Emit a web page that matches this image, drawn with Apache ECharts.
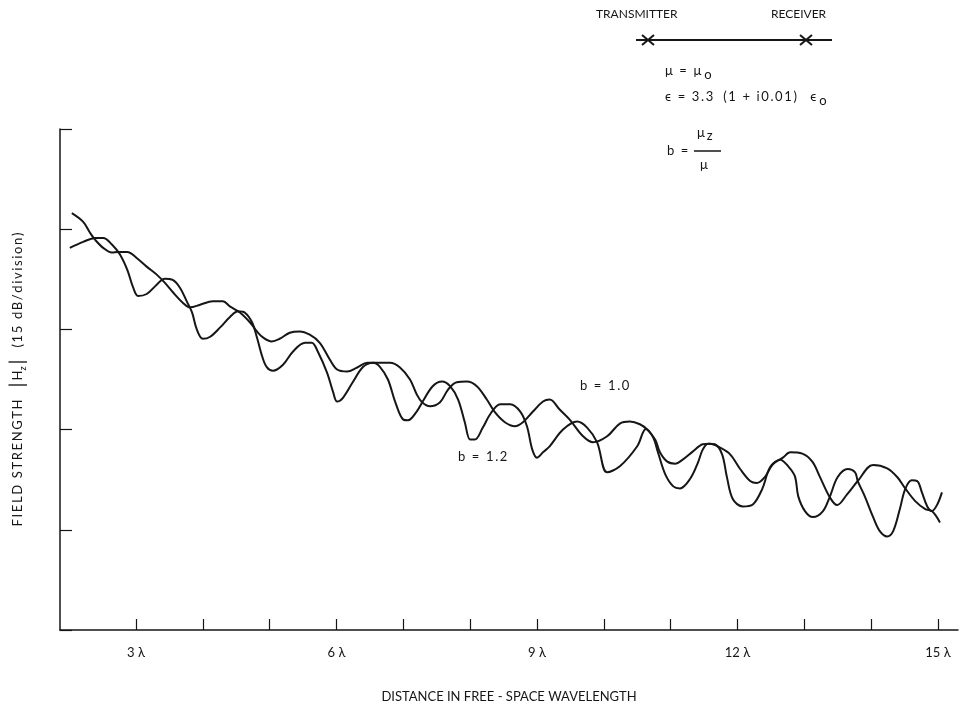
<!DOCTYPE html>
<html>
<head>
<meta charset="utf-8">
<title>Field strength vs distance</title>
<script src="https://cdn.jsdelivr.net/npm/echarts@6/dist/echarts.min.js"></script>
<style>
  html, body { margin: 0; padding: 0; background: #fff; }
  #chart { width: 959px; height: 708px; }
</style>
</head>
<body>
<div id="chart"></div>
<script>
// distance in free-space wavelengths, field strength in dB (15 dB per division)
const b10Distance = [2.04, 2.21, 2.31, 2.39, 2.51, 2.64, 2.73, 2.87, 3.01, 3.16, 3.31, 3.43, 3.55, 3.70, 3.81, 3.96,
  4.15, 4.30, 4.41, 4.56, 4.71, 4.81, 4.90, 5.03, 5.15, 5.30, 5.45, 5.60, 5.75, 5.90, 6.01, 6.16, 6.31, 6.46,
  6.65, 6.80, 6.95, 7.10, 7.20, 7.28, 7.40, 7.55, 7.67, 7.80, 7.95, 8.10, 8.25, 8.37, 8.52, 8.67, 8.79, 8.94,
  9.09, 9.19, 9.34, 9.49, 9.69, 9.84, 10.05, 10.24, 10.39, 10.54, 10.65, 10.77, 10.84, 10.95, 11.07, 11.18,
  11.33, 11.48, 11.59, 11.74, 11.89, 12.04, 12.19, 12.29, 12.41, 12.53, 12.68, 12.79, 12.97, 13.12, 13.23,
  13.38, 13.49, 13.64, 13.80, 14.03, 14.24, 14.39, 14.51, 14.66, 14.81, 14.91, 15.03];
const b10Field = [62.4, 61.1, 59.5, 58.4, 57.2, 56.5, 56.6, 56.6, 55.7, 54.4, 53.2, 52.0, 50.6, 49.0, 48.3, 48.7,
  49.2, 49.2, 48.4, 47.5, 46.0, 44.7, 43.8, 43.2, 43.6, 44.5, 44.7, 44.2, 43.0, 40.5, 39.0, 38.7, 39.3, 40.0,
  40.0, 40.0, 39.3, 37.5, 35.3, 34.1, 33.5, 34.1, 36.0, 37.1, 37.2, 36.5, 34.5, 32.6, 31.1, 30.5, 31.1, 32.7,
  34.2, 34.5, 33.0, 31.5, 29.0, 28.1, 29.0, 30.9, 31.2, 30.8, 30.0, 28.5, 26.6, 25.2, 24.9, 25.5,
  26.7, 27.8, 27.9, 27.3, 26.3, 24.1, 22.3, 22.0, 22.9, 24.8, 25.8, 26.6, 26.4, 25.2, 23.0,
  19.9, 18.7, 20.3, 22.3, 24.7, 24.2, 22.9, 21.2, 19.3, 18.1, 17.8, 16.1];

const b12Distance = [2.01, 2.21, 2.39, 2.51, 2.64, 2.76, 2.87, 2.96, 3.03, 3.16, 3.31, 3.43, 3.55, 3.66, 3.76, 3.84,
  3.91, 4.00, 4.11, 4.26, 4.41, 4.53, 4.63, 4.74, 4.81, 4.89, 4.96, 5.05, 5.20, 5.35, 5.53, 5.63, 5.72, 5.86,
  5.95, 6.01, 6.10, 6.25, 6.40, 6.55, 6.65, 6.77, 6.88, 7.00, 7.07, 7.20, 7.29, 7.44, 7.58, 7.70, 7.82, 7.92,
  8.00, 8.07, 8.19, 8.30, 8.45, 8.60, 8.75, 8.85, 8.93, 9.00, 9.09, 9.19, 9.39, 9.60, 9.75, 9.90, 10.05,
  10.24, 10.50, 10.63, 10.74, 10.81, 10.92, 11.04, 11.14, 11.29, 11.41, 11.48, 11.56, 11.66, 11.77, 11.84,
  11.93, 12.08, 12.23, 12.37, 12.49, 12.64, 12.76, 12.86, 12.91, 13.01, 13.13, 13.28, 13.38, 13.50, 13.65,
  13.76, 13.80, 13.91, 14.03, 14.13, 14.24, 14.33, 14.43, 14.51, 14.61, 14.69, 14.76, 14.84, 14.91, 14.99, 15.06];
const b12Field = [57.2, 58.1, 58.7, 58.7, 57.7, 56.2, 53.9, 51.2, 50.0, 50.3, 51.7, 52.6, 52.4, 51.2, 49.2, 47.5,
  45.0, 43.6, 43.9, 45.3, 46.9, 47.7, 47.5, 46.0, 43.8, 40.9, 39.3, 38.8, 39.7, 41.7, 43.0, 43.0, 41.7, 38.5,
  35.6, 34.2, 34.8, 37.2, 39.4, 40.0, 39.4, 37.5, 34.1, 31.5, 31.4, 32.7, 34.2, 36.5, 37.2, 36.5, 34.5, 31.1,
  28.5, 28.5, 30.3, 32.3, 33.8, 33.8, 32.7, 30.5, 27.0, 25.8, 26.6, 27.5, 30.0, 31.2, 30.3, 28.1, 23.6,
  24.5, 27.5, 30.1, 28.8, 26.6, 23.3, 21.5, 21.2, 22.6, 25.1, 27.0, 27.9, 27.8, 26.3, 23.0,
  19.6, 18.5, 18.8, 21.1, 24.4, 25.5, 24.5, 23.0, 20.0, 17.8, 16.9, 17.8, 19.9, 22.9, 24.1,
  23.6, 22.3, 19.9, 16.9, 14.8, 14.0, 14.8, 18.1, 21.1, 22.4, 22.3, 20.6, 18.5, 17.8, 18.8, 20.6];

const xTickValues = [3, 4, 5, 6, 7, 8, 9, 10, 11, 12, 13, 14, 15];
const xLabelValues = [3, 6, 9, 12, 15];

const FONT = 'Lato, "Open Sans", sans-serif';
const INK = '#161616';

// the original lettering is widely tracked; fake it with thin spaces
const spaced = s => s.split('').join('\u2009');

const chart = echarts.init(document.getElementById('chart'));

const lineSeries = (name, xs, ys) => ({
  name: name,
  type: 'line',
  data: xs.map((x, i) => [x, ys[i]]),
  smooth: 0.35,
  showSymbol: false,
  lineStyle: { color: INK, width: 2 },
  silent: true
});

const txt = (left, top, text, size) => ({
  type: 'text', left: left, top: top,
  style: { text: text, fill: INK, font: size + 'px ' + FONT }
});

// plain text followed by a lowered subscript
const subTxt = (left, top, main, sub, drop, gap) => ({
  type: 'text', left: left, top: top,
  style: {
    text: '{t|' + main + '}{s|' + sub + '}', fill: INK, font: '13px ' + FONT,
    rich: {
      t: { fontSize: 13, fontFamily: FONT, fill: INK },
      s: { fontSize: 13, fontFamily: FONT, fill: INK, padding: [drop, 0, 0, gap] }
    }
  }
});

chart.setOption({
  backgroundColor: '#fff',
  animation: false,
  grid: { left: 60, right: 1, top: 129, bottom: 77 },
  xAxis: {
    type: 'value',
    min: 1.863,
    max: 15.3,
    name: 'DISTANCE IN FREE - SPACE WAVELENGTH',
    nameLocation: 'middle',
    nameGap: 60,
    nameTextStyle: { color: INK, fontFamily: FONT, fontSize: 13 },
    axisLine: { lineStyle: { color: INK, width: 1.5 } },
    axisTick: {
      inside: true,
      length: 11,
      customValues: xTickValues,
      lineStyle: { color: INK, width: 1.2 }
    },
    axisLabel: {
      customValues: xLabelValues,
      formatter: v => v + ' λ',
      margin: 16,
      color: INK,
      fontFamily: FONT,
      fontSize: 13
    },
    splitLine: { show: false }
  },
  yAxis: {
    type: 'value',
    min: 0,
    max: 75,
    interval: 15,
    name: spaced('FIELD STRENGTH') + '   {bar||}{h|H}{sub|z}{bar||}   ' + spaced('(15 dB/division)'),
    nameLocation: 'middle',
    nameGap: 32,
    nameTextStyle: {
      color: INK, fontFamily: FONT, fontSize: 13,
      rich: {
        bar: { fontSize: 20, color: INK, fontFamily: FONT, padding: [0, 2, 0, 2] },
        h: { fontSize: 13, color: INK, fontFamily: FONT },
        sub: { fontSize: 9, color: INK, fontFamily: FONT, verticalAlign: 'bottom', padding: [6, 0, 0, 0] }
      }
    },
    axisLine: { lineStyle: { color: INK, width: 1.5 } },
    axisTick: { inside: true, length: 12, lineStyle: { color: INK, width: 1.2 } },
    axisLabel: { show: false },
    splitLine: { show: false }
  },
  series: [
    lineSeries('b = 1.0', b10Distance, b10Field),
    lineSeries('b = 1.2', b12Distance, b12Field)
  ],
  graphic: [
    txt(596, 8, 'TRANSMITTER', 12),
    txt(771, 8, 'RECEIVER', 12),
    { type: 'line', shape: { x1: 636, y1: 40, x2: 832, y2: 40 }, style: { stroke: INK, lineWidth: 2 } },
    { type: 'line', shape: { x1: 642, y1: 35, x2: 654, y2: 45 }, style: { stroke: INK, lineWidth: 2 } },
    { type: 'line', shape: { x1: 642, y1: 45, x2: 654, y2: 35 }, style: { stroke: INK, lineWidth: 2 } },
    { type: 'line', shape: { x1: 800, y1: 35, x2: 812, y2: 45 }, style: { stroke: INK, lineWidth: 2 } },
    { type: 'line', shape: { x1: 800, y1: 45, x2: 812, y2: 35 }, style: { stroke: INK, lineWidth: 2 } },
    subTxt(665, 64, spaced('μ = μ'), 'o', 9, 3),
    subTxt(665, 90, spaced('ϵ = 3.3') + '   ' + spaced('(1 + i0.01)') + '    ϵ', 'o', 9, 3),
    txt(667, 144, spaced('b ='), 13),
    subTxt(697, 126, 'μ', 'z', 6, 2),
    { type: 'line', shape: { x1: 694, y1: 151, x2: 721, y2: 151 }, style: { stroke: INK, lineWidth: 1.5 } },
    txt(700, 158, 'μ', 13),
    { type: 'ellipse', shape: { cx: 664, cy: 151, rx: 2.5, ry: 1.5 }, rotation: 0.5, style: { fill: INK } },
    txt(580, 379, spaced('b = 1.0'), 13),
    txt(458, 450, spaced('b = 1.2'), 13)
  ]
});

window.addEventListener('resize', () => {
  chart.resize();
});
</script>
</body>
</html>
